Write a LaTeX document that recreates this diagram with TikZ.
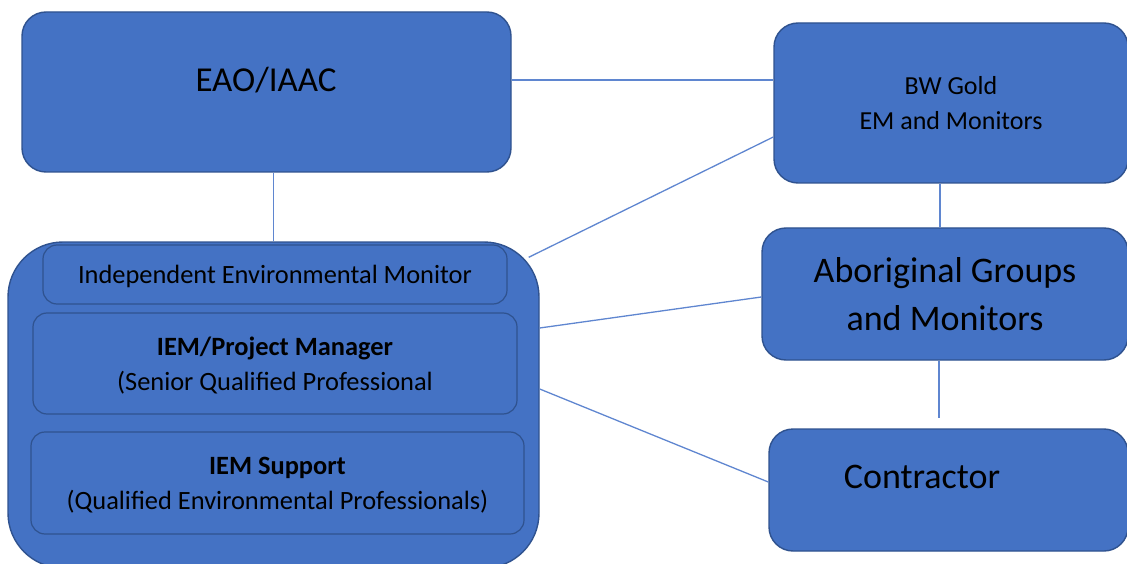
\documentclass[tikz,border=0pt]{standalone}
\usepackage{fontspec}
\setmainfont{Carlito}
\definecolor{boxblue}{HTML}{4472C4}
\definecolor{boxedge}{HTML}{2F528F}
\definecolor{linkblue}{HTML}{5F86D0}

\tikzset{
  party/.style={draw=boxedge, fill=boxblue, line width=1.4pt, rounded corners=24pt, inner sep=0pt, align=center, text=black},
  role/.style={draw=boxedge, fill=boxblue, line width=1.2pt, rounded corners=14pt, inner sep=0pt, align=center, text=black, text depth=0pt, font=\fontsize{26.4}{35}\selectfont},
  link/.style={draw=linkblue, line width=1.3pt},
}

\begin{document}
\begin{tikzpicture}[x=1pt,y=-1pt]
    \useasboundingbox (0,0) rectangle (1127,564);

    % regulators and company
    \node[party, minimum width=489pt, minimum height=160pt] (eao) at (266.5,92) {};
    \node[font=\fontsize{35}{40}\selectfont] (eaoname) at (266,80) {EAO/IAAC};
    \node[party, minimum width=354pt, minimum height=160pt, font=\fontsize{26}{35}\selectfont] (bw) at (951,103) {BW Gold\\EM and Monitors};
    \node[party, minimum width=366pt, minimum height=132pt, font=\fontsize{36}{48}\selectfont] (abo) at (945,294) {Aboriginal Groups\\and Monitors};
    \node[party, minimum width=359pt, minimum height=122pt] (con) at (948.5,490) {};
    \node[font=\fontsize{36}{40}\selectfont] (conname) at (922,477) {Contractor};

    % monitor team
    \node[party, rounded corners=55pt, minimum width=531pt, minimum height=326pt] (iem) at (273.5,405) {};
    \node[role, minimum width=464pt, minimum height=59pt] (monitor) at (275,274.5) {Independent Environmental Monitor};
    \node[role, minimum width=484pt, minimum height=101pt] (pm) at (275,363.5) {\textbf{IEM/Project Manager}\\(Senior Qualified Professional};
    \node[role, minimum width=493pt, minimum height=102pt] (support) at (277.5,483) {\textbf{IEM Support}\\(Qualified Environmental Professionals)};

    \coordinate (abotail) at (939,418);

    % links
    \draw[link] ([yshift=12pt]eao.east) -- ([yshift=12pt]eao.east -| bw.west);
    \draw[link] (iem.north) -- (iem.north |- eao.south);
    \draw[link] ([xshift=-11pt]bw.south) -- ([xshift=-11pt]bw.south |- abo.north);
    \draw[link] (abotail |- abo.south) -- (abotail);
    \draw[link] ([xshift=-11pt,yshift=-16pt]iem.north east) -- ([yshift=-34pt]bw.west);
    \draw[link] ([yshift=77pt]iem.east) -- ([yshift=-3pt]abo.west);
    \draw[link] ([yshift=16pt]iem.east) -- ([yshift=8pt]con.west);

\end{tikzpicture}
\end{document}
